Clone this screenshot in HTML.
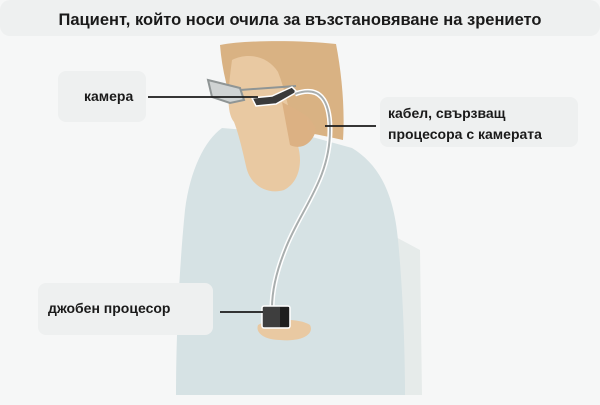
<!DOCTYPE html>
<html><head><meta charset="utf-8"><style>
body{margin:0;width:600px;height:400px;background:#f6f7f7;overflow:hidden;font-family:"Liberation Sans","DejaVu Sans",sans-serif}
</style></head><body>
<svg width="600" height="400" viewBox="0 0 600 400" xmlns="http://www.w3.org/2000/svg">
<rect width="600" height="400" fill="#f6f7f7"/>
<rect x="0" y="0" width="600" height="36" rx="10" fill="#eef0f0"/>
<text x="300" y="25" text-anchor="middle" font-family="Liberation Sans, DejaVu Sans, sans-serif" font-weight="bold" font-size="16.5" fill="#1a1a1a">Пациент, който носи очила за възстановяване на зрението</text>
<!-- chair -->
<path d="M392 235 L420 250 L422 395 L392 395 Z" fill="#e6ebea"/>
<!-- body -->
<path d="M222 128 C205 140 190 170 185 210 C180 260 176 330 176 395 L405 395 C405 340 402 280 398 240 C394 195 380 165 352 148 L305 135 Z" fill="#d6e2e4"/>
<!-- hair -->
<path d="M220 45 C245 40 300 40 336 44 C342 75 345 110 343 140 C325 136 305 132 292 130 L238 118 C228 95 222 70 220 45 Z" fill="#d9b283"/>
<!-- face/neck -->
<path d="M232 60 C248 52 268 56 278 72 C286 92 290 115 296 140 C304 160 300 182 284 190 C268 195 250 186 246 166 C242 148 238 132 234 122 C226 112 228 90 232 60 Z" fill="#e9c9a2"/>
<path d="M282 102 C296 110 312 115 316 130 C312 145 300 150 290 145 Z" fill="#dcb183"/>
<!-- glasses -->
<path d="M208 80 L240 88 L244 100 L230 103 L212 97 Z" fill="#cfd3d3" stroke="#8f9595" stroke-width="2"/>
<line x1="240" y1="90" x2="296" y2="86" stroke="#8f9595" stroke-width="2"/>
<path d="M252 98 L272 96 L292 87 L297 92 L276 104 L256 106 Z" fill="#3a3a3a" stroke="#fff" stroke-width="1.5"/>
<!-- cable -->
<path d="M295 94 C320 85 330 100 330 130 C330 180 300 210 285 250 C275 275 272 295 272 308" fill="none" stroke="#fff" stroke-width="5"/>
<path d="M295 94 C320 85 330 100 330 130 C330 180 300 210 285 250 C275 275 272 295 272 308" fill="none" stroke="#a9aeae" stroke-width="2"/>
<!-- hand -->
<path d="M258 325 C270 318 300 318 310 325 C315 335 300 342 280 340 C265 340 255 333 258 325 Z" fill="#e9c9a2"/>
<!-- processor -->
<rect x="262" y="306" width="28" height="22" rx="2" fill="#3e3e3e" stroke="#fff" stroke-width="1.5"/>
<rect x="280" y="307" width="9" height="20" fill="#1e1e1e"/>
<!-- labels -->
<rect x="58" y="71" width="88" height="51" rx="8" fill="#eef0f0"/>
<text x="84" y="101" font-family="Liberation Sans, DejaVu Sans, sans-serif" font-weight="bold" font-size="14" fill="#1a1a1a">камера</text>
<line x1="148" y1="97" x2="258" y2="97" stroke="#1a1a1a" stroke-width="1.8"/>
<rect x="380" y="97" width="198" height="50" rx="8" fill="#eef0f0"/>
<text x="388" y="118" font-family="Liberation Sans, DejaVu Sans, sans-serif" font-weight="bold" font-size="14" fill="#1a1a1a">кабел, свързващ</text>
<text x="388" y="139" font-family="Liberation Sans, DejaVu Sans, sans-serif" font-weight="bold" font-size="14" fill="#1a1a1a">процесора с камерата</text>
<line x1="325" y1="126" x2="376" y2="126" stroke="#1a1a1a" stroke-width="1.8"/>
<rect x="38" y="283" width="175" height="52" rx="8" fill="#eef0f0"/>
<text x="48" y="313" font-family="Liberation Sans, DejaVu Sans, sans-serif" font-weight="bold" font-size="14" fill="#1a1a1a">джобен процесор</text>
<line x1="220" y1="312" x2="263" y2="312" stroke="#1a1a1a" stroke-width="1.8"/>
</svg>
</body></html>
